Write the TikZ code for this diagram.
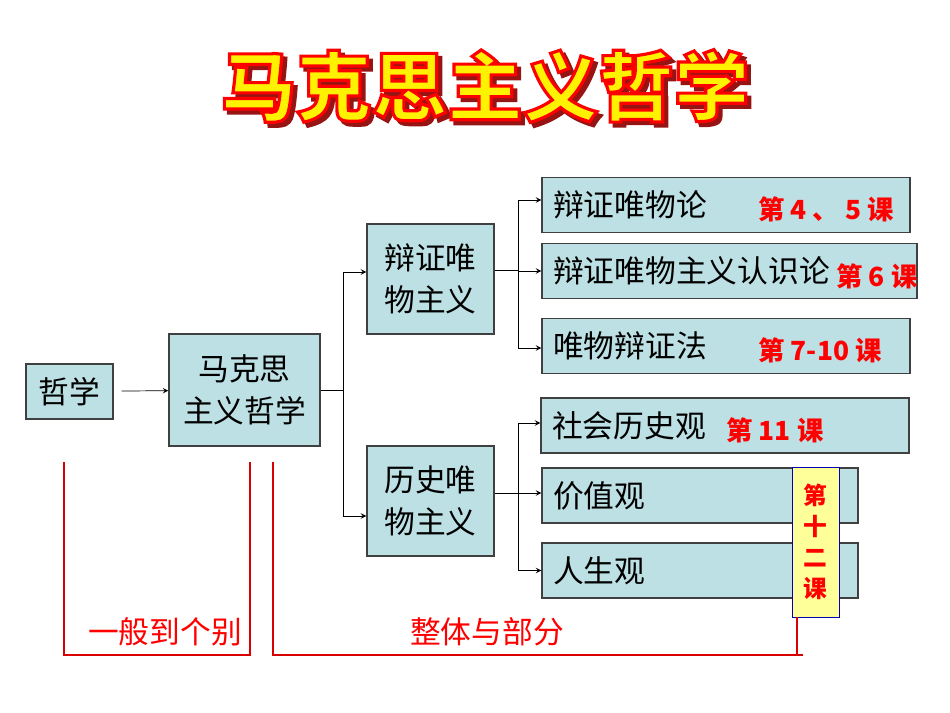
\documentclass[tikz,border=0pt]{standalone}
\usepackage{fontspec}
\usetikzlibrary{arrows.meta, positioning}
\newfontfamily\cjk{Noto Sans CJK SC}
\definecolor{boxfill}{RGB}{189,224,228}
\definecolor{notefill}{RGB}{255,255,153}
\definecolor{shadowred}{RGB}{150,20,20}
% outlined text: fill in current colour, stroke as given
\newcommand\outlinetext[2]{\special{pdf:literal direct 2 Tr 1.8 w #1 RG}#2\special{pdf:literal direct 0 Tr}}

\begin{document}
\begin{tikzpicture}[
        x=0.02cm, y=-0.02cm,
        box/.style={draw=black!75, line width=0.8pt, fill=boxfill, align=center, inner sep=0pt, font=\cjk\fontsize{17.5}{24}\selectfont},
        wide/.style={box, minimum height=1.1cm, text width=#1, align=left, inner xsep=0.22cm},
        lesson/.style={text=red, font=\cjk\bfseries\fontsize{15}{18}\selectfont},
        note/.style={text=red, font=\cjk\fontsize{17.5}{24}\selectfont},
        redbracket/.style={red!85!black, line width=0.6pt},
        headline/.style={font=\cjk\bfseries\fontsize{43}{48}\selectfont}
    ]
    \useasboundingbox (0,0) rectangle (950,713);

    % Titel
    \node[headline] (titleshadow) at (489,90) {\color{shadowred}\outlinetext{0.59 0.08 0.08}{马克思主义哲学}};
    \node[headline] (title) at (485,86) {\color{yellow}\outlinetext{1 0 0}{马克思主义哲学}};

    \node[box, minimum width=1.74cm, minimum height=1.1cm] (zx) at (69.5,391.5) {哲学};
    \node[box, minimum width=3.02cm, minimum height=2.24cm] (mks) at (244.5,390) {马克思\\主义哲学};
    \node[box, minimum width=2.54cm, minimum height=2.2cm] (bz) at (430.5,279) {辩证唯\\物主义};
    \node[box, minimum width=2.54cm, minimum height=2.2cm] (ls) at (430.5,501) {历史唯\\物主义};

    \node[wide=6.92cm] (dwl) at (726,205) {辩证唯物论};
    \node[wide=7.06cm] (rsl) at (729.5,271) {辩证唯物主义认识论};
    \node[wide=6.92cm] (bzf) at (726,346) {唯物辩证法};
    \node[wide=6.92cm] (shl) at (725,425.5) {社会历史观};
    \node[wide=5.88cm] (jzg) at (700,495.5) {价值观};
    \node[wide=5.88cm] (rsg) at (700,570.5) {人生观};

    \node[lesson] (k45) at (826,209) {第 4 、 5 课};
    \node[lesson] (k6) at (877,276) {第 6 课};
    \node[lesson] (k710) at (820,350) {第 7-10 课};
    \node[lesson] (k11) at (775,430) {第 11 课};
    \node[lesson, draw=blue!70!black, fill=notefill, minimum width=0.94cm, minimum height=3cm, inner sep=0pt, align=center, font=\cjk\bfseries\fontsize{13.5}{17.6}\selectfont] (k12) at (815.5,542) {第\\十\\二\\课};

    % Verbindungen
    \draw[-stealth, shorten <=0.16cm] (zx) -- (mks);
    \draw (mks.east) -- ++(23,0) coordinate (j1);
    \draw[-stealth] (j1) |- ([yshift=0.14cm]bz.west);
    \draw[-stealth] (j1) |- ([yshift=-0.3cm]ls.west);

    \draw ([yshift=0.18cm]bz.east) -- ++(24,0) coordinate (j2);
    \draw[-stealth] (j2) |- ([yshift=0.1cm]dwl.west);
    \draw[-stealth] (j2) |- (rsl.west);
    \draw[-stealth] (j2) |- ([yshift=-0.04cm]bzf.west);

    \draw ([yshift=0.16cm]ls.east) -- ++(24,0) coordinate (j3);
    \draw[-stealth] (j3) |- ([yshift=0.05cm]shl.west);
    \draw[-stealth] (j3) |- ([yshift=0.05cm]jzg.west);
    \draw[-stealth] (j3) |- (rsg.west);

    % rote Klammern
    \node[note] (ybgb) at (165,632) {一般到个别};
    \node[note] (ztbf) at (487,632) {整体与部分};
    \draw[redbracket] (64,462) -- (64,655) -- (250,655) -- (250,462);
    \draw[redbracket] (273,462) |- (803,655);
    \draw[redbracket] ([xshift=-0.37cm]k12.south) -- ++(0,38);
\end{tikzpicture}
\end{document}
